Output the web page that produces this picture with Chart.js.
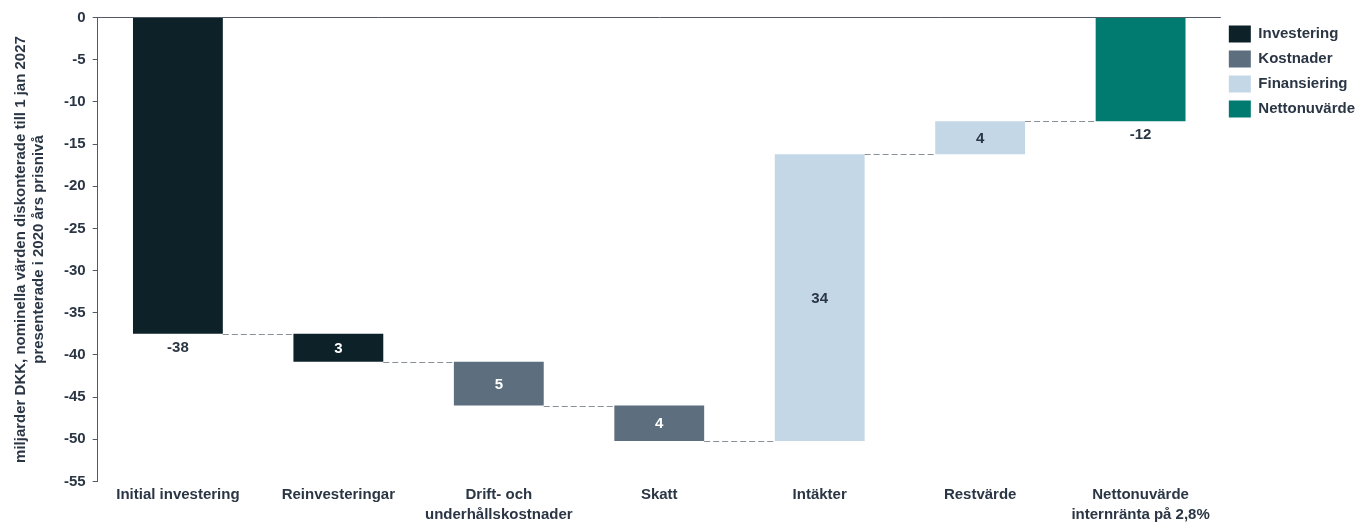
<!DOCTYPE html>
<html>
<head>
<meta charset="utf-8">
<script src="https://cdn.jsdelivr.net/npm/chart.js@4.4.1/dist/chart.umd.min.js"></script>
<style>
  html, body { margin: 0; padding: 0; background: #fff; }
  #wrap { width: 1370px; height: 523px; }
</style>
</head>
<body>
<div id="wrap"><canvas id="graf"></canvas></div>
<script>
// Kassaflöden, miljarder DKK
const kategorier = [
    'Initial investering',
    'Reinvesteringar',
    ['Drift- och', 'underhållskostnader'],
    'Skatt',
    'Intäkter',
    'Restvärde',
    ['Nettonuvärde', 'internränta på 2,8%']
];
const grupper = ['Investering', 'Kostnader', 'Finansiering', 'Nettonuvärde'];
const gruppFarger = ['#0d2128', '#5d6f7e', '#c4d7e6', '#017a70'];
const gruppPerStapel = [0, 0, 1, 1, 2, 2, 3];
const stapelStart = [0, -37.5, -40.8, -46.0, -50.2, -16.2, 0];
const stapelSlut = [-37.5, -40.8, -46.0, -50.2, -16.2, -12.3, -12.3];
const etiketter = ['-38', '3', '5', '4', '34', '4', '-12'];
const etikettUnder = [true, false, false, false, false, false, true];
const yMin = -55;
const yMax = 0;
const ySteg = 5;

const textFarg = '#2b3645';
const axelFarg = '#4f5a66';
const typsnitt = "'Liberation Sans', Arial, sans-serif";

const dataset = grupper.map((namn, g) => ({
    label: namn,
    data: kategorier.map((_, i) => gruppPerStapel[i] === g ? [stapelStart[i], stapelSlut[i]] : null),
    backgroundColor: gruppFarger[g],
    borderWidth: 0,
    grouped: false,
    barPercentage: 0.56,
    categoryPercentage: 1
}));

// Streckade förbindelselinjer och värdeetiketter
const vattenfallPlugin = {
    id: 'vattenfall',
    afterDatasetsDraw(chart) {
        const ctx = chart.ctx;
        const y = chart.scales.y;
        const stapel = i => chart.getDatasetMeta(gruppPerStapel[i]).data[i];

        ctx.save();
        ctx.strokeStyle = '#8a9097';
        ctx.lineWidth = 1;
        ctx.setLineDash([6, 3]);
        for (let i = 0; i < kategorier.length - 1; i++) {
            const a = stapel(i), b = stapel(i + 1);
            const niva = Math.round(y.getPixelForValue(stapelSlut[i])) + 0.5;
            ctx.beginPath();
            ctx.moveTo(a.x + a.width / 2, niva);
            ctx.lineTo(b.x - b.width / 2, niva);
            ctx.stroke();
        }
        ctx.setLineDash([]);

        ctx.font = 'bold 15px ' + typsnitt;
        ctx.textAlign = 'center';
        ctx.textBaseline = 'middle';
        kategorier.forEach((_, i) => {
            const el = stapel(i);
            const topp = y.getPixelForValue(Math.max(stapelStart[i], stapelSlut[i]));
            const botten = y.getPixelForValue(Math.min(stapelStart[i], stapelSlut[i]));
            if (etikettUnder[i]) {
                ctx.fillStyle = textFarg;
                ctx.fillText(etiketter[i], el.x, botten + 13.5);
            } else {
                ctx.fillStyle = gruppPerStapel[i] === 2 ? textFarg : '#ffffff';
                ctx.fillText(etiketter[i], el.x, (topp + botten) / 2 + 1);
            }
        });
        ctx.restore();
    }
};

new Chart(document.getElementById('graf'), {
    type: 'bar',
    data: { labels: kategorier, datasets: dataset },
    plugins: [vattenfallPlugin],
    options: {
        responsive: true,
        maintainAspectRatio: false,
        animation: false,
        layout: { padding: { left: 8, top: 17.5, right: 5, bottom: -4.5 } },
        plugins: {
            tooltip: { enabled: false },
            legend: {
                position: 'right',
                align: 'start',
                labels: {
                    boxWidth: 22,
                    boxHeight: 17,
                    padding: 8,
                    color: textFarg,
                    font: { family: typsnitt, size: 15, weight: 'bold' }
                }
            }
        },
        scales: {
            x: {
                grid: { display: false, drawTicks: false },
                border: { display: false },
                ticks: {
                    color: textFarg,
                    padding: 3,
                    maxRotation: 0,
                    autoSkip: false,
                    font: { family: typsnitt, size: 15, weight: 'bold', lineHeight: 1.333 }
                }
            },
            y: {
                min: yMin,
                max: yMax,
                border: { display: true, color: axelFarg, width: 1 },
                grid: {
                    color: c => (c.tick && c.tick.value === 0) ? axelFarg : 'rgba(0,0,0,0)',
                    tickColor: axelFarg,
                    tickLength: 5,
                    lineWidth: 1
                },
                ticks: {
                    stepSize: ySteg,
                    color: textFarg,
                    padding: 7,
                    font: { family: typsnitt, size: 15, weight: 'bold' }
                },
                title: {
                    display: true,
                    text: ['miljarder DKK, nominella värden diskonterade till 1 jan 2027', 'presenterade i 2020 års prisnivå'],
                    color: textFarg,
                    padding: { top: 4, bottom: 9 },
                    font: { family: typsnitt, size: 15, weight: 'bold', lineHeight: 1.2 }
                }
            }
        }
    }
});
</script>
</body>
</html>
